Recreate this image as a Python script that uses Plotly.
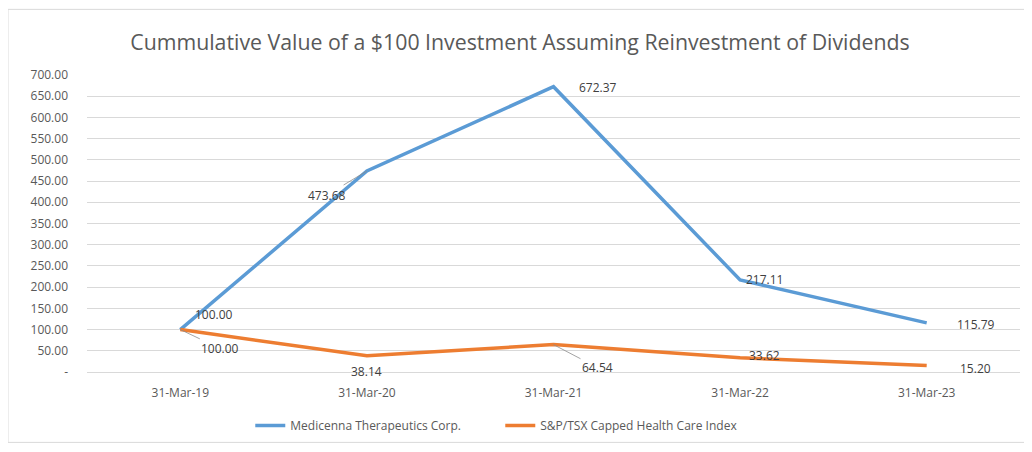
import plotly.graph_objects as go

dates = ["31-Mar-19", "31-Mar-20", "31-Mar-21", "31-Mar-22", "31-Mar-23"]
medicenna = [100.00, 473.68, 672.37, 217.11, 115.79]
tsx_health = [100.00, 38.14, 64.54, 33.62, 15.20]

y_ticks = [0, 50, 100, 150, 200, 250, 300, 350, 400, 450, 500, 550, 600, 650, 700]
y_tick_text = ["-" if v == 0 else f"{v:.2f}" for v in y_ticks]

BLUE = "#5B9BD5"
ORANGE = "#ED7D31"
GREY = "#595959"
FONT = "Open Sans, Liberation Sans, sans-serif"

# label offsets in pixels (dx, dy) from the point and whether a leader line is drawn
blue_offsets = [(34, -15, False), (-40, 24, True), (44, 1, False), (24, 0, False), (49, 2, False)]
orange_offsets = [(40, 19, True), (0, 16, False), (44, 23, True), (24, -2, False), (49, 3, False)]

fig = go.Figure()
fig.add_trace(go.Scatter(
    x=dates, y=medicenna, mode="lines",
    name="Medicenna Therapeutics Corp.",
    line=dict(color=BLUE, width=3.5)))
fig.add_trace(go.Scatter(
    x=dates, y=tsx_health, mode="lines",
    name="S&P/TSX Capped Health Care Index",
    line=dict(color=ORANGE, width=3.5)))

annotations = []
for series, offsets in ((medicenna, blue_offsets), (tsx_health, orange_offsets)):
    for d, v, (dx, dy, leader) in zip(dates, series, offsets):
        annotations.append(dict(
            x=d, y=v, xref="x", yref="y",
            text=f"{v:.2f}", showarrow=leader,
            arrowhead=0, arrowwidth=0.8, arrowcolor="#8c8c8c",
            ax=dx, ay=dy,
            xshift=0 if leader else dx, yshift=0 if leader else -dy,
            font=dict(size=12, color="#404040", family=FONT)))

# the page body adds an 8px margin, so the figure is sized to fit inside it
fig.update_layout(
    width=1024, height=444,
    paper_bgcolor="white", plot_bgcolor="white",
    margin=dict(l=79, r=12, t=67, b=78),
    title=dict(text="Cummulative Value of a $100 Investment Assuming Reinvestment of Dividends",
               x=0.5, xanchor="center", y=0.923, yanchor="middle",
               font=dict(size=21.3, color=GREY, family=FONT)),
    xaxis=dict(type="category", range=[-0.5, 4.5], showgrid=False,
               showline=True, linecolor="#d9d9d9", ticks="", automargin=False,
               ticklabelstandoff=10,
               tickfont=dict(size=12, color=GREY, family=FONT)),
    yaxis=dict(range=[0, 700], tickvals=y_ticks, ticktext=y_tick_text,
               showgrid=True, gridcolor="#d9d9d9", gridwidth=1,
               zeroline=False, showline=False, ticks="", automargin=False,
               ticklabelstandoff=18,
               tickfont=dict(size=12, color=GREY, family=FONT)),
    legend=dict(orientation="h", x=0.175, xanchor="left", y=-0.18, yanchor="middle",
                font=dict(size=12, color=GREY, family=FONT),
                entrywidth=205, entrywidthmode="pixels"),
    showlegend=True,
    annotations=annotations,
    shapes=[dict(type="rect", xref="paper", yref="paper",
                 x0=-0.0847, x1=1.0054, y0=-0.237, y1=1.221,
                 line=dict(color="#d9d9d9", width=1))],
)

fig.write_html("out.html")
